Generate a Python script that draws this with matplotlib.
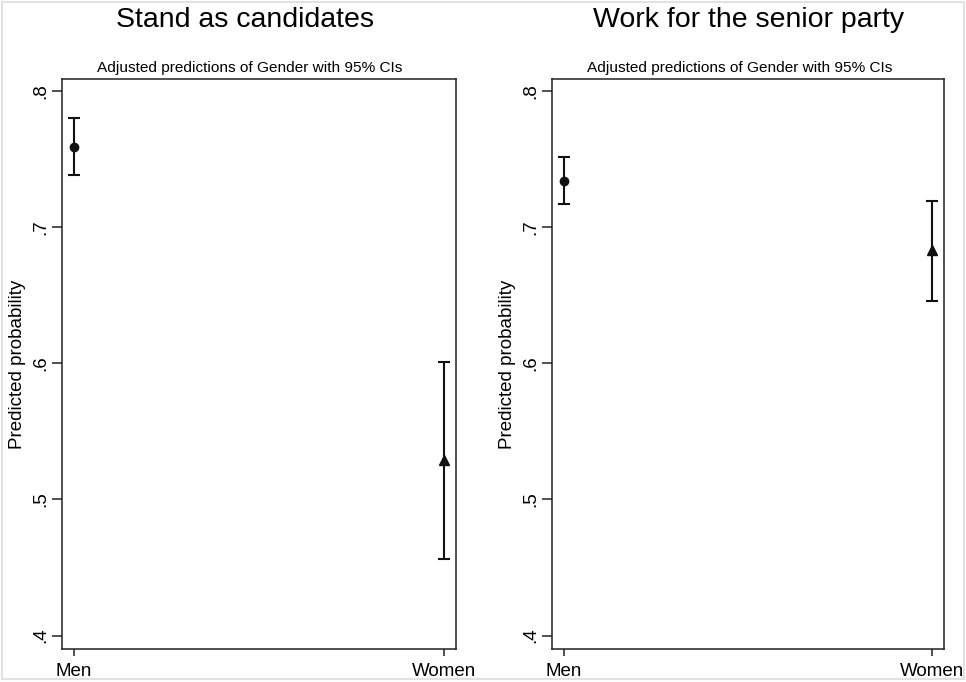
import matplotlib
matplotlib.use("Agg")
import matplotlib.pyplot as plt
from matplotlib.patches import Rectangle

plt.rcParams['font.family'] = ['Liberation Sans', 'DejaVu Sans']

############################################
# data: adjusted predictions with 95% CIs

genders = ["Men", "Women"]

stand_margin = [0.759, 0.529]
stand_lower = [0.738, 0.456]
stand_upper = [0.780, 0.601]

senior_margin = [0.734, 0.683]
senior_lower = [0.717, 0.646]
senior_upper = [0.751, 0.719]

panel_titles = ["Stand as candidates", "Work for the senior party"]
subtitle = "Adjusted predictions of Gender with 95% CIs"
ytick_vals = [0.4, 0.5, 0.6, 0.7, 0.8]
ytick_labels = [".4", ".5", ".6", ".7", ".8"]

#############################################
## Plotting

fig = plt.figure(figsize=(9.66, 6.82), dpi=100)
fig.patch.set_facecolor("white")

# thin grey frame round the whole graph
fig.patches.append(Rectangle((2 / 966, 3 / 682), 962 / 966, 677 / 682,
                             transform=fig.transFigure, fill=False,
                             edgecolor="#e2e2e2", linewidth=1.5))

ax_left = fig.add_axes([62 / 966, 1 - 649 / 682, 394 / 966, 570 / 682])
ax_right = fig.add_axes([552 / 966, 1 - 649 / 682, 392 / 966, 570 / 682])

panels = [
    (ax_left, stand_margin, stand_lower, stand_upper),
    (ax_right, senior_margin, senior_lower, senior_upper),
]

# horizontal centres (pixels) of the big titles and the subtitles
title_x = [245, 749]
subtitle_x = [250, 740]

x = [0, 1]
markers = ["o", "^"]

for k, (ax, margin, lower, upper) in enumerate(panels):
    for i in range(len(genders)):
        err = [[margin[i] - lower[i]], [upper[i] - margin[i]]]
        ax.errorbar([x[i]], [margin[i]], yerr=err, fmt=markers[i],
                    color="#111111", markersize=6.5 if i else 6,
                    elinewidth=1.5, capsize=4, capthick=1.5)

    ax.set_xlim(-0.032, 1.032)
    ax.set_ylim(0.3902, 0.8086)
    ax.set_xticks(x)
    ax.set_xticklabels(genders, fontsize=13.5)
    ax.set_yticks(ytick_vals)
    ax.set_yticklabels(ytick_labels, fontsize=13.5, rotation=90, va="center")
    ax.tick_params(axis="y", length=7.5, width=1.1, pad=2, color="#222222")
    ax.tick_params(axis="x", length=5, width=1.1, pad=5, color="#222222")
    for s in ax.spines.values():
        s.set_linewidth(1.1)
        s.set_color("#222222")

    ax.set_ylabel("Predicted probability", fontsize=13.5)
    ax.yaxis.set_label_coords(-0.091, 0.5)

    fig.text(subtitle_x[k] / 966, 1 - 68 / 682, subtitle, fontsize=11.1,
             ha="center", va="center")
    fig.text(title_x[k] / 966, 1 - 20 / 682, panel_titles[k], fontsize=20.5,
             ha="center", va="center")

fig.savefig("out.png", dpi=100)
